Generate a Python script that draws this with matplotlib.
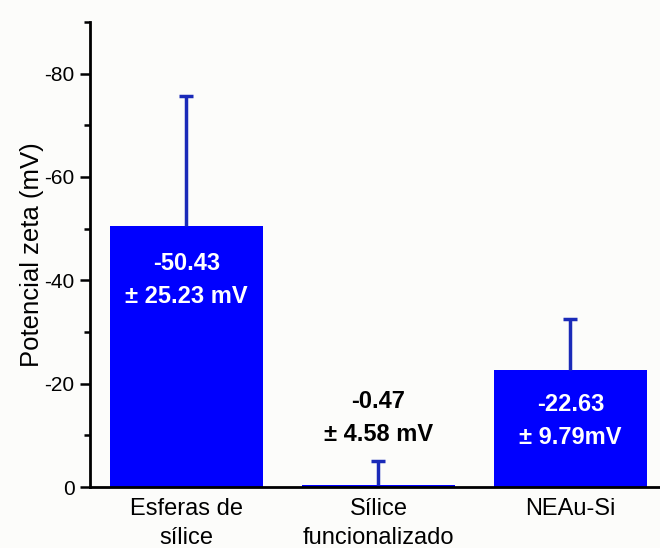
import matplotlib
matplotlib.use('Agg')
import matplotlib.pyplot as plt
import numpy as np
from matplotlib.ticker import MultipleLocator

# datos de potencial zeta (mV)
muestras = ['Esferas de\nsílice', 'Sílice\nfuncionalizado', 'NEAu-Si']
zeta = [-50.43, -0.47, -22.63]
desv = [25.23, 4.58, 9.79]
etiquetas = ['-50.43\n± 25.23 mV', '-0.47\n± 4.58 mV', '-22.63\n± 9.79mV']
color_texto = ['white', 'black', 'white']
pos_texto = [-40.1, -13.3, -12.8]

plt.rcParams['font.family'] = ['Liberation Sans', 'DejaVu Sans']
plt.rcParams['axes.unicode_minus'] = False

AZUL = '#0000ff'
AZUL_ERR = '#1a2ab8'

fig = plt.figure(figsize=(6.6, 5.48), dpi=100, facecolor='#fcfcfa')
ax = fig.add_axes([0.136, 0.1113, 0.864, 0.8486])
ax.set_facecolor('#fcfcfa')

x = np.arange(len(muestras))
z = np.array(zeta)
d = np.array(desv)
ax.bar(x, z, width=0.8, color=AZUL, zorder=2)
# barra de error solo hacia valores más negativos (sin tope inferior)
ax.vlines(x, z, z - d, color=AZUL_ERR, linewidth=2.5, zorder=3)
ax.plot(x, z - d, linestyle='none', marker='_', markersize=10, mew=2.5,
        color=AZUL_ERR, zorder=3)

for xi, txt, c, yt in zip(x, etiquetas, color_texto, pos_texto):
    ax.text(xi, yt, txt, ha='center', va='center', color=c, fontsize=17,
            fontweight='bold', linespacing=1.55, zorder=4)

ax.set_xlim(-0.503, 2.466)
ax.set_ylim(0, -90)
ax.yaxis.set_minor_locator(MultipleLocator(10))
ax.set_yticks([0, -20, -40, -60, -80])
ax.set_xticks(x)
ax.set_xticklabels(muestras, fontsize=17, linespacing=1.4)
ax.tick_params(axis='x', length=0, pad=8)
ax.tick_params(axis='y', which='major', length=7, width=1.8, labelsize=15, pad=4)
ax.tick_params(axis='y', which='minor', length=4, width=1.8)

ax.set_ylabel('Potencial zeta (mV)', fontsize=18.5, labelpad=0)

for s in ['top', 'right']:
    ax.spines[s].set_visible(False)
ax.spines['left'].set_linewidth(2)
ax.spines['bottom'].set_linewidth(2)

plt.savefig('out.png', dpi=100, facecolor=fig.get_facecolor())
